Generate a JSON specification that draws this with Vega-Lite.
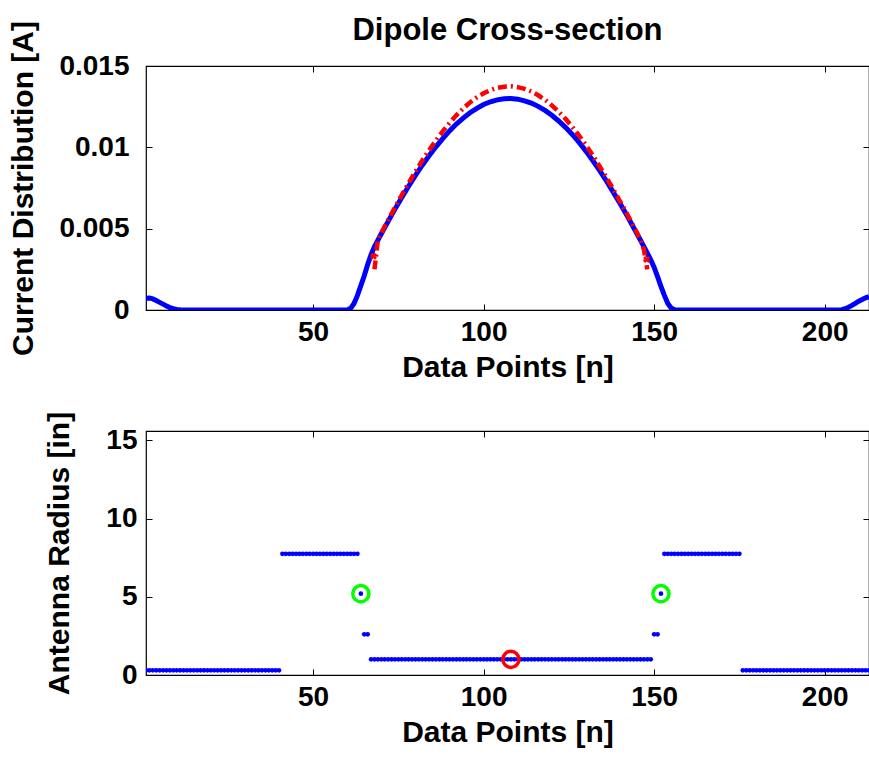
{
  "$schema": "https://vega.github.io/schema/vega-lite/v6.json",
  "padding": {"left": 8, "top": 13, "right": 0, "bottom": 5},
  "background": "white",
  "spacing": 27,
  "config": {
    "font": "Liberation Sans",
    "view": {"stroke": "#000", "strokeWidth": 1.2},
    "axis": {
      "labelFont": "Liberation Sans", "labelFontWeight": "bold", "labelFontSize": 28, "labelColor": "#000",
      "titleFont": "Liberation Sans", "titleFontWeight": "bold", "titleFontSize": 30, "titleColor": "#000",
      "domain": false, "grid": false, "tickColor": "#000", "tickSize": -6, "tickWidth": 1
    }
  },
  "datasets": {
    "blue": [
      {"n": 1, "a": 0.00072}, {"n": 2, "a": 0.00074}, {"n": 3, "a": 0.00068}, {"n": 4, "a": 0.00058},
      {"n": 5, "a": 0.00047}, {"n": 6, "a": 0.00036}, {"n": 7, "a": 0.00025}, {"n": 8, "a": 0.00015},
      {"n": 9, "a": 0.00008}, {"n": 10, "a": 0.00003}, {"n": 11, "a": 0.00001}, {"n": 12, "a": 0},
      {"n": 30, "a": 0}, {"n": 60, "a": 0}, {"n": 61, "a": 0.0001}, {"n": 62, "a": 0.0004},
      {"n": 63, "a": 0.0009}, {"n": 64, "a": 0.0015}, {"n": 65, "a": 0.0021}, {"n": 66, "a": 0.0028},
      {"n": 67, "a": 0.0034}, {"n": 68, "a": 0.0039}, {"n": 70, "a": 0.00469}, {"n": 72, "a": 0.00545},
      {"n": 74, "a": 0.0062}, {"n": 76, "a": 0.00692}, {"n": 78, "a": 0.00761}, {"n": 80, "a": 0.00827},
      {"n": 82, "a": 0.0089}, {"n": 84, "a": 0.00948}, {"n": 86, "a": 0.01003}, {"n": 88, "a": 0.01054},
      {"n": 90, "a": 0.01101}, {"n": 92, "a": 0.01143}, {"n": 94, "a": 0.0118}, {"n": 96, "a": 0.01213},
      {"n": 98, "a": 0.0124}, {"n": 100, "a": 0.01263}, {"n": 102, "a": 0.0128}, {"n": 104, "a": 0.01292},
      {"n": 106, "a": 0.01299}, {"n": 108, "a": 0.013}, {"n": 110, "a": 0.01296}, {"n": 112, "a": 0.01286},
      {"n": 114, "a": 0.01272}, {"n": 116, "a": 0.01252}, {"n": 118, "a": 0.01227}, {"n": 120, "a": 0.01197},
      {"n": 122, "a": 0.01162}, {"n": 124, "a": 0.01123}, {"n": 126, "a": 0.01079}, {"n": 128, "a": 0.0103},
      {"n": 130, "a": 0.00977}, {"n": 132, "a": 0.00919}, {"n": 134, "a": 0.00858}, {"n": 136, "a": 0.00793},
      {"n": 138, "a": 0.00725}, {"n": 140, "a": 0.00655}, {"n": 142, "a": 0.00582}, {"n": 144, "a": 0.00506},
      {"n": 146, "a": 0.00429}, {"n": 148, "a": 0.00349}, {"n": 149, "a": 0.00309}, {"n": 150, "a": 0.00262},
      {"n": 151, "a": 0.00205}, {"n": 152, "a": 0.00145}, {"n": 153, "a": 0.0009}, {"n": 154, "a": 0.0004},
      {"n": 155, "a": 0.00012}, {"n": 156, "a": 0.00002}, {"n": 157, "a": 0}, {"n": 180, "a": 0},
      {"n": 204, "a": 0}, {"n": 205, "a": 0.00002}, {"n": 206, "a": 0.00008}, {"n": 207, "a": 0.00017},
      {"n": 208, "a": 0.00028}, {"n": 209, "a": 0.00041}, {"n": 210, "a": 0.00054}, {"n": 211, "a": 0.00065},
      {"n": 212, "a": 0.00075}, {"n": 213, "a": 0.00083}
    ],
    "red": [
      {"n": 68, "a": 0.0025}, {"n": 69, "a": 0.00434}, {"n": 70, "a": 0.00474}, {"n": 72, "a": 0.00554},
      {"n": 74, "a": 0.00631}, {"n": 76, "a": 0.00707}, {"n": 78, "a": 0.0078}, {"n": 80, "a": 0.00851},
      {"n": 82, "a": 0.00919}, {"n": 84, "a": 0.00982}, {"n": 86, "a": 0.01042}, {"n": 88, "a": 0.01098},
      {"n": 90, "a": 0.0115}, {"n": 92, "a": 0.01197}, {"n": 94, "a": 0.01239}, {"n": 96, "a": 0.01276},
      {"n": 98, "a": 0.01307}, {"n": 100, "a": 0.01332}, {"n": 102, "a": 0.01352}, {"n": 104, "a": 0.01366},
      {"n": 106, "a": 0.01373}, {"n": 108, "a": 0.01375}, {"n": 110, "a": 0.0137}, {"n": 112, "a": 0.01359},
      {"n": 114, "a": 0.01343}, {"n": 116, "a": 0.0132}, {"n": 118, "a": 0.01292}, {"n": 120, "a": 0.01258},
      {"n": 122, "a": 0.01219}, {"n": 124, "a": 0.01175}, {"n": 126, "a": 0.01126}, {"n": 128, "a": 0.01072},
      {"n": 130, "a": 0.01014}, {"n": 132, "a": 0.00951}, {"n": 134, "a": 0.00884}, {"n": 136, "a": 0.00815},
      {"n": 138, "a": 0.00743}, {"n": 140, "a": 0.00668}, {"n": 142, "a": 0.00592}, {"n": 144, "a": 0.00513},
      {"n": 146, "a": 0.00433}, {"n": 147, "a": 0.0037}, {"n": 148, "a": 0.0025}
    ],
    "redEnds": [
      {"n": 67.7, "a": 0.0033}, {"n": 147.8, "a": 0.0031}
    ],
    "radius": [
      {"n": 1, "r": 0.3}, {"n": 2, "r": 0.3}, {"n": 3, "r": 0.3}, {"n": 4, "r": 0.3}, {"n": 5, "r": 0.3},
      {"n": 6, "r": 0.3}, {"n": 7, "r": 0.3}, {"n": 8, "r": 0.3}, {"n": 9, "r": 0.3}, {"n": 10, "r": 0.3},
      {"n": 11, "r": 0.3}, {"n": 12, "r": 0.3}, {"n": 13, "r": 0.3}, {"n": 14, "r": 0.3}, {"n": 15, "r": 0.3},
      {"n": 16, "r": 0.3}, {"n": 17, "r": 0.3}, {"n": 18, "r": 0.3}, {"n": 19, "r": 0.3}, {"n": 20, "r": 0.3},
      {"n": 21, "r": 0.3}, {"n": 22, "r": 0.3}, {"n": 23, "r": 0.3}, {"n": 24, "r": 0.3}, {"n": 25, "r": 0.3},
      {"n": 26, "r": 0.3}, {"n": 27, "r": 0.3}, {"n": 28, "r": 0.3}, {"n": 29, "r": 0.3}, {"n": 30, "r": 0.3},
      {"n": 31, "r": 0.3}, {"n": 32, "r": 0.3}, {"n": 33, "r": 0.3}, {"n": 34, "r": 0.3}, {"n": 35, "r": 0.3},
      {"n": 36, "r": 0.3}, {"n": 37, "r": 0.3}, {"n": 38, "r": 0.3}, {"n": 39, "r": 0.3}, {"n": 40, "r": 0.3},
      {"n": 41, "r": 7.75}, {"n": 42, "r": 7.75}, {"n": 43, "r": 7.75}, {"n": 44, "r": 7.75}, {"n": 45, "r": 7.75},
      {"n": 46, "r": 7.75}, {"n": 47, "r": 7.75}, {"n": 48, "r": 7.75}, {"n": 49, "r": 7.75}, {"n": 50, "r": 7.75},
      {"n": 51, "r": 7.75}, {"n": 52, "r": 7.75}, {"n": 53, "r": 7.75}, {"n": 54, "r": 7.75}, {"n": 55, "r": 7.75},
      {"n": 56, "r": 7.75}, {"n": 57, "r": 7.75}, {"n": 58, "r": 7.75}, {"n": 59, "r": 7.75}, {"n": 60, "r": 7.75},
      {"n": 61, "r": 7.75}, {"n": 62, "r": 7.75}, {"n": 63, "r": 7.75}, {"n": 64, "r": 5.2}, {"n": 65, "r": 2.6},
      {"n": 66, "r": 2.6}, {"n": 67, "r": 1.0}, {"n": 68, "r": 1.0}, {"n": 69, "r": 1.0}, {"n": 70, "r": 1.0},
      {"n": 71, "r": 1.0}, {"n": 72, "r": 1.0}, {"n": 73, "r": 1.0}, {"n": 74, "r": 1.0}, {"n": 75, "r": 1.0},
      {"n": 76, "r": 1.0}, {"n": 77, "r": 1.0}, {"n": 78, "r": 1.0}, {"n": 79, "r": 1.0}, {"n": 80, "r": 1.0},
      {"n": 81, "r": 1.0}, {"n": 82, "r": 1.0}, {"n": 83, "r": 1.0}, {"n": 84, "r": 1.0}, {"n": 85, "r": 1.0},
      {"n": 86, "r": 1.0}, {"n": 87, "r": 1.0}, {"n": 88, "r": 1.0}, {"n": 89, "r": 1.0}, {"n": 90, "r": 1.0},
      {"n": 91, "r": 1.0}, {"n": 92, "r": 1.0}, {"n": 93, "r": 1.0}, {"n": 94, "r": 1.0}, {"n": 95, "r": 1.0},
      {"n": 96, "r": 1.0}, {"n": 97, "r": 1.0}, {"n": 98, "r": 1.0}, {"n": 99, "r": 1.0}, {"n": 100, "r": 1.0},
      {"n": 101, "r": 1.0}, {"n": 102, "r": 1.0}, {"n": 103, "r": 1.0}, {"n": 104, "r": 1.0}, {"n": 105, "r": 1.0},
      {"n": 106, "r": 1.0}, {"n": 107, "r": 1.0}, {"n": 108, "r": 1.0}, {"n": 109, "r": 1.0}, {"n": 110, "r": 1.0},
      {"n": 111, "r": 1.0}, {"n": 112, "r": 1.0}, {"n": 113, "r": 1.0}, {"n": 114, "r": 1.0}, {"n": 115, "r": 1.0},
      {"n": 116, "r": 1.0}, {"n": 117, "r": 1.0}, {"n": 118, "r": 1.0}, {"n": 119, "r": 1.0}, {"n": 120, "r": 1.0},
      {"n": 121, "r": 1.0}, {"n": 122, "r": 1.0}, {"n": 123, "r": 1.0}, {"n": 124, "r": 1.0}, {"n": 125, "r": 1.0},
      {"n": 126, "r": 1.0}, {"n": 127, "r": 1.0}, {"n": 128, "r": 1.0}, {"n": 129, "r": 1.0}, {"n": 130, "r": 1.0},
      {"n": 131, "r": 1.0}, {"n": 132, "r": 1.0}, {"n": 133, "r": 1.0}, {"n": 134, "r": 1.0}, {"n": 135, "r": 1.0},
      {"n": 136, "r": 1.0}, {"n": 137, "r": 1.0}, {"n": 138, "r": 1.0}, {"n": 139, "r": 1.0}, {"n": 140, "r": 1.0},
      {"n": 141, "r": 1.0}, {"n": 142, "r": 1.0}, {"n": 143, "r": 1.0}, {"n": 144, "r": 1.0}, {"n": 145, "r": 1.0},
      {"n": 146, "r": 1.0}, {"n": 147, "r": 1.0}, {"n": 148, "r": 1.0}, {"n": 149, "r": 1.0}, {"n": 150, "r": 2.6},
      {"n": 151, "r": 2.6}, {"n": 152, "r": 5.2}, {"n": 153, "r": 7.75}, {"n": 154, "r": 7.75}, {"n": 155, "r": 7.75},
      {"n": 156, "r": 7.75}, {"n": 157, "r": 7.75}, {"n": 158, "r": 7.75}, {"n": 159, "r": 7.75}, {"n": 160, "r": 7.75},
      {"n": 161, "r": 7.75}, {"n": 162, "r": 7.75}, {"n": 163, "r": 7.75}, {"n": 164, "r": 7.75}, {"n": 165, "r": 7.75},
      {"n": 166, "r": 7.75}, {"n": 167, "r": 7.75}, {"n": 168, "r": 7.75}, {"n": 169, "r": 7.75}, {"n": 170, "r": 7.75},
      {"n": 171, "r": 7.75}, {"n": 172, "r": 7.75}, {"n": 173, "r": 7.75}, {"n": 174, "r": 7.75}, {"n": 175, "r": 7.75},
      {"n": 176, "r": 0.3}, {"n": 177, "r": 0.3}, {"n": 178, "r": 0.3}, {"n": 179, "r": 0.3}, {"n": 180, "r": 0.3},
      {"n": 181, "r": 0.3}, {"n": 182, "r": 0.3}, {"n": 183, "r": 0.3}, {"n": 184, "r": 0.3}, {"n": 185, "r": 0.3},
      {"n": 186, "r": 0.3}, {"n": 187, "r": 0.3}, {"n": 188, "r": 0.3}, {"n": 189, "r": 0.3}, {"n": 190, "r": 0.3},
      {"n": 191, "r": 0.3}, {"n": 192, "r": 0.3}, {"n": 193, "r": 0.3}, {"n": 194, "r": 0.3}, {"n": 195, "r": 0.3},
      {"n": 196, "r": 0.3}, {"n": 197, "r": 0.3}, {"n": 198, "r": 0.3}, {"n": 199, "r": 0.3}, {"n": 200, "r": 0.3},
      {"n": 201, "r": 0.3}, {"n": 202, "r": 0.3}, {"n": 203, "r": 0.3}, {"n": 204, "r": 0.3}, {"n": 205, "r": 0.3},
      {"n": 206, "r": 0.3}, {"n": 207, "r": 0.3}, {"n": 208, "r": 0.3}, {"n": 209, "r": 0.3}, {"n": 210, "r": 0.3},
      {"n": 211, "r": 0.3}, {"n": 212, "r": 0.3}, {"n": 213, "r": 0.3}
    ],
    "rings": [
      {"n": 64, "r": 5.2, "kind": "feed"},
      {"n": 152, "r": 5.2, "kind": "feed"},
      {"n": 108, "r": 1.0, "kind": "center"}
    ]
  },
  "vconcat": [
    {
      "width": 723,
      "height": 244,
      "title": {"text": "Dipole Cross-section", "fontSize": 31, "fontWeight": "bold", "font": "Liberation Sans", "anchor": "middle", "offset": -26, "color": "#000"},
      "layer": [
        {
          "data": {"name": "blue"},
          "mark": {"type": "line", "color": "#0000ff", "strokeWidth": 5, "clip": true},
          "encoding": {
            "x": {"field": "n", "type": "quantitative", "scale": {"domain": [1, 213], "nice": false, "zero": false},
                  "axis": {"orient": "bottom", "values": [50, 100, 150, 200], "title": "Data Points [n]", "labelPadding": 14, "titlePadding": 6}},
            "y": {"field": "a", "type": "quantitative", "scale": {"domain": [0, 0.015], "nice": false},
                  "axis": {"orient": "left", "values": [0, 0.005, 0.01, 0.015], "format": ".3~f", "title": "Current Distribution [A]", "labelPadding": 23, "titlePadding": 20}}
          }
        },
        {
          "data": {"name": "red"},
          "mark": {"type": "line", "color": "#ff0000", "strokeWidth": 4.5, "strokeDash": [9, 4, 2, 4], "clip": true},
          "encoding": {
            "x": {"field": "n", "type": "quantitative", "axis": {"orient": "top", "values": [50, 100, 150, 200], "labels": false, "title": null}},
            "y": {"field": "a", "type": "quantitative", "axis": {"orient": "right", "values": [0, 0.005, 0.01, 0.015], "labels": false, "title": null}}
          }
        },
        {
          "data": {"name": "redEnds"},
          "mark": {"type": "point", "shape": "cross", "angle": 45, "filled": true, "color": "#ff0000", "size": 50, "opacity": 1},
          "encoding": {
            "x": {"field": "n", "type": "quantitative", "axis": null},
            "y": {"field": "a", "type": "quantitative", "axis": null}
          }
        }
      ],
      "resolve": {"axis": {"x": "independent", "y": "independent"}}
    },
    {
      "width": 723,
      "height": 244,
      "layer": [
        {
          "data": {"name": "radius"},
          "mark": {"type": "circle", "color": "#0000ff", "size": 22, "opacity": 1, "clip": true},
          "encoding": {
            "x": {"field": "n", "type": "quantitative", "scale": {"domain": [1, 213], "nice": false, "zero": false},
                  "axis": {"orient": "bottom", "values": [50, 100, 150, 200], "title": "Data Points [n]", "labelPadding": 14, "titlePadding": 6}},
            "y": {"field": "r", "type": "quantitative", "scale": {"domain": [0, 15.6], "nice": false},
                  "axis": {"orient": "left", "values": [0, 5, 10, 15], "title": "Antenna Radius [in]", "labelPadding": 15, "titlePadding": 31}}
          }
        },
        {
          "data": {"name": "rings"},
          "mark": {"type": "point", "filled": false, "strokeWidth": 3.5, "size": 260, "opacity": 1},
          "encoding": {
            "x": {"field": "n", "type": "quantitative", "axis": {"orient": "top", "values": [50, 100, 150, 200], "labels": false, "title": null}},
            "y": {"field": "r", "type": "quantitative", "axis": {"orient": "right", "values": [0, 5, 10, 15], "labels": false, "title": null}},
            "color": {"field": "kind", "type": "nominal", "scale": {"domain": ["feed", "center"], "range": ["#00ff00", "#ff0000"]}, "legend": null}
          }
        }
      ],
      "resolve": {"axis": {"x": "independent", "y": "independent"}}
    }
  ]
}
